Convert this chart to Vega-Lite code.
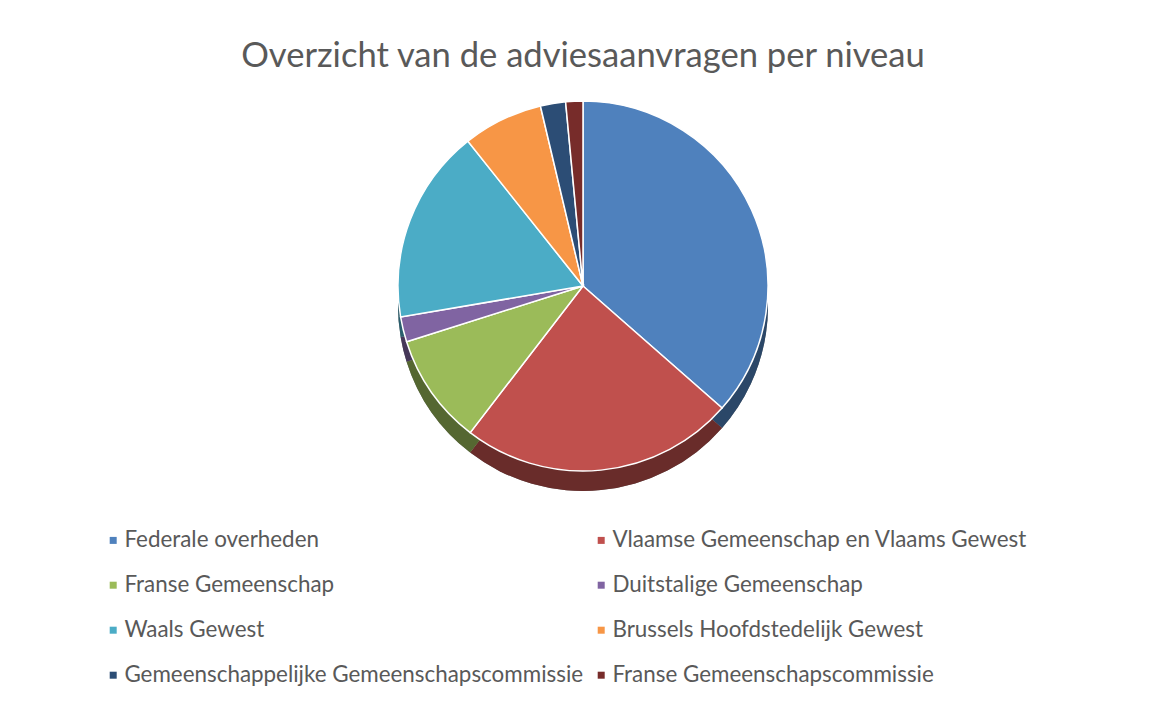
{
  "$schema": "https://vega.github.io/schema/vega-lite/v6.json",
  "autosize": {"type": "fit", "contains": "padding"},
  "width": 1153,
  "height": 704,
  "padding": {"left": 102, "right": 89, "top": 39, "bottom": 17},
  "background": "white",
  "title": {
    "text": "Overzicht van de adviesaanvragen per niveau",
    "font": "Lato",
    "fontSize": 34.6,
    "fontWeight": "normal",
    "color": "#595959",
    "anchor": "middle",
    "offset": 20
  },
  "data": {
    "values": [
      {"niveau": "Federale overheden", "idx": 1, "aantal": 365},
      {"niveau": "Vlaamse Gemeenschap en Vlaams Gewest", "idx": 2, "aantal": 240},
      {"niveau": "Franse Gemeenschap", "idx": 3, "aantal": 97},
      {"niveau": "Duitstalige Gemeenschap", "idx": 4, "aantal": 22},
      {"niveau": "Waals Gewest", "idx": 5, "aantal": 170},
      {"niveau": "Brussels Hoofdstedelijk Gewest", "idx": 6, "aantal": 70},
      {"niveau": "Gemeenschappelijke Gemeenschapscommissie", "idx": 7, "aantal": 22},
      {"niveau": "Franse Gemeenschapscommissie", "idx": 8, "aantal": 15}
    ]
  },
  "encoding": {
    "theta": {"field": "aantal", "type": "quantitative", "stack": true},
    "order": {"field": "idx", "type": "quantitative"},
    "color": {
      "field": "niveau",
      "type": "nominal",
      "sort": {"field": "idx"},
      "scale": {
        "domain": ["Federale overheden", "Vlaamse Gemeenschap en Vlaams Gewest", "Franse Gemeenschap", "Duitstalige Gemeenschap", "Waals Gewest", "Brussels Hoofdstedelijk Gewest", "Gemeenschappelijke Gemeenschapscommissie", "Franse Gemeenschapscommissie"],
        "range": ["#4F81BD", "#C0504D", "#9BBB59", "#8064A2", "#4BACC6", "#F79646", "#2C4D75", "#772C2A"]
      },
      "legend": {
        "title": null,
        "orient": "bottom",
        "direction": "horizontal",
        "columns": 2,
        "symbolType": "square",
        "symbolSize": 49,
        "symbolStrokeWidth": 0,
        "symbolOpacity": 1,
        "labelFont": "Lato",
        "labelFontSize": 22.4,
        "labelColor": "#595959",
        "labelLimit": 700,
        "labelOffset": 0,
        "rowPadding": 22,
        "columnPadding": 6,
        "offset": 20
      }
    }
  },
  "layer": [
    {
      "mark": {"type": "arc", "outerRadius": 185, "yOffset": 4},
      "encoding": {"color": {"value": "#000000"}}
    },
    {
      "mark": {"type": "arc", "outerRadius": 185, "yOffset": 4, "opacity": 0.55}
    },
    {
      "mark": {"type": "arc", "outerRadius": 185, "yOffset": -16, "stroke": "#ffffff", "strokeWidth": 1.5}
    }
  ],
  "config": {
    "view": {"stroke": null}
  }
}
